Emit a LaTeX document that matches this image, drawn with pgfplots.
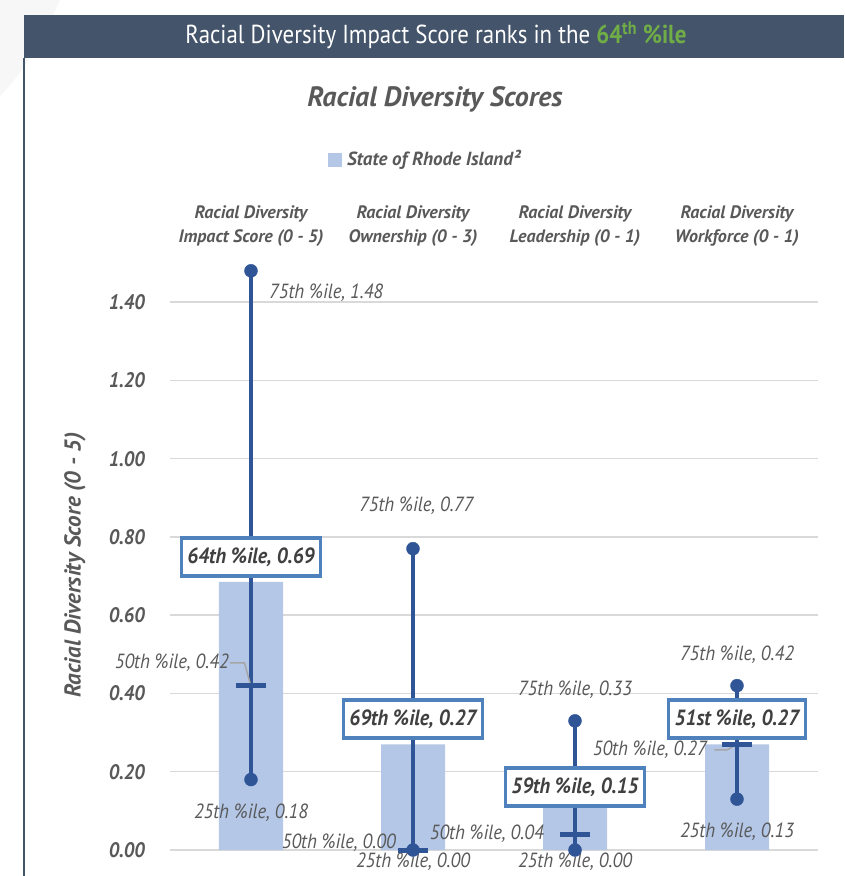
\documentclass[border=0pt]{standalone}
\usepackage{fontspec}
\setmainfont{PT Sans}
\newfontfamily\narrow[FakeStretch=0.91]{PT Sans}
\newfontfamily\hdr[FakeStretch=0.88]{PT Sans}
\usepackage{pgfplots}
\pgfplotsset{compat=1.18}
\definecolor{navy}{HTML}{44546A}
\definecolor{barc}{HTML}{B4C7E7}
\definecolor{errc}{HTML}{2F5597}
\definecolor{boxc}{HTML}{4F81BD}
\definecolor{txt}{HTML}{595959}
\definecolor{dark}{HTML}{404040}
\definecolor{greenc}{HTML}{70AD47}
\definecolor{gridc}{HTML}{D9D9D9}
\begin{document}
\begin{tikzpicture}
\begin{axis}[
  name=ax,
  scale only axis, width=648pt, height=587pt,
  xmin=-0.5, xmax=3.5, ymin=0, ymax=1.5,
  axis line style={draw=none},
  xtick=\empty,
  ytick={0,0.2,0.4,0.6,0.8,1.0,1.2,1.4},
  ymajorgrids, grid style={gridc, line width=1.5pt},
  major tick length=0pt,
  yticklabel style={txt, font=\narrow\bfseries\itshape\fontsize{21}{24}\selectfont, anchor=east, inner sep=0pt, xshift=-25pt,
    /pgf/number format/.cd, fixed, fixed zerofill, precision=2, assume math mode=true},
  clip=false,
]
\addplot[ybar, bar width=64pt, fill=barc, draw=none] coordinates {(0,0.685) (1,0.27) (2,0.15) (3,0.27)};
\addplot[errc, line width=3.5pt] coordinates {(0,0.18) (0,1.48)};
\addplot[errc, line width=3.5pt] coordinates {(1,0.00) (1,0.77)};
\addplot[errc, line width=3.5pt] coordinates {(2,0.00) (2,0.33)};
\addplot[errc, line width=3.5pt] coordinates {(3,0.13) (3,0.42)};
\addplot[only marks, mark=*, mark size=6.5pt, errc] coordinates {(0,0.18)(0,1.48)(1,0)(1,0.77)(2,0)(2,0.33)(3,0.13)(3,0.42)};
\addplot[only marks, mark=-, mark size=15pt, errc, mark options={line width=5pt}] coordinates {(0,0.42)(1,0)(2,0.04)(3,0.27)};
% leader lines
\draw[gray!70, line width=1.5pt] (axis cs:-0.13,0.478) -- (axis cs:-0.04,0.478) -- (axis cs:-0.005,0.425);
\draw[gray!70, line width=1.5pt] (axis cs:2.86,0.256) -- (axis cs:2.94,0.256) -- (axis cs:2.99,0.268);
% category labels
\tikzset{cl/.style={txt, font=\bfseries\itshape\fontsize{18}{24}\selectfont, align=center}}
\node[cl] at (axis cs:0,1.594) {Racial Diversity\\Impact Score (0 - 5)};
\node[cl] at (axis cs:1,1.594) {Racial Diversity\\Ownership (0 - 3)};
\node[cl] at (axis cs:2,1.594) {Racial Diversity\\Leadership (0 - 1)};
\node[cl] at (axis cs:3,1.594) {Racial Diversity\\Workforce (0 - 1)};
% percentile labels
\tikzset{pl/.style={txt, font=\narrow\itshape\fontsize{20.5}{22}\selectfont, inner sep=0pt}}
\node[pl, anchor=west, xshift=18pt] at (axis cs:0,1.425) {75th \%ile, 1.48};
\node[pl, anchor=east, xshift=-22pt] at (axis cs:0,0.478) {50th \%ile, 0.42};
\node[pl] at (axis cs:0,0.0945) {25th \%ile, 0.18};
\node[pl] at (axis cs:1.02,0.881) {75th \%ile, 0.77};
\node[pl, anchor=east, xshift=-17pt] at (axis cs:1,0.018) {50th \%ile, 0.00};
\node[pl] at (axis cs:1,-0.031) {25th \%ile, 0.00};
\node[pl] at (axis cs:2,0.409) {75th \%ile, 0.33};
\node[pl, anchor=east, xshift=-31pt] at (axis cs:2,0.041) {50th \%ile, 0.04};
\node[pl] at (axis cs:2,-0.031) {25th \%ile, 0.00};
\node[pl] at (axis cs:3,0.498) {75th \%ile, 0.42};
\node[pl, anchor=east, xshift=-30pt] at (axis cs:3,0.255) {50th \%ile, 0.27};
\node[pl] at (axis cs:3,0.046) {25th \%ile, 0.13};
% value boxes
\tikzset{vb/.style={draw=boxc, line width=3.5pt, fill=white, text=dark, font=\narrow\bfseries\itshape\fontsize{22}{24}\selectfont, minimum height=38pt, inner xsep=6pt}}
\node[vb] at (axis cs:0,0.749) {64th \%ile, 0.69};
\node[vb] at (axis cs:1,0.335) {69th \%ile, 0.27};
\node[vb] at (axis cs:2,0.161) {59th \%ile, 0.15};
\node[vb] at (axis cs:3,0.335) {51st \%ile, 0.27};
\end{axis}
\begin{scope}[shift={(ax.south west)}]
\begin{scope}[x=1pt,y=1pt,shift={(-170pt,-26pt)}]
\useasboundingbox (0,0) rectangle (844,876);
\fill[gray!6] (0,876) -- (0,780) .. controls (20,800) and (40,830) .. (60,876) -- cycle;
\fill[navy] (24,818) rectangle (844,861);
\draw[navy, line width=2pt] (24,818) -- (24,0);
\node[white, font=\hdr\fontsize{26}{28}\selectfont] at (436,841) {Racial Diversity Impact Score ranks in the \textcolor{greenc}{\textbf{64\textsuperscript{th} \%ile}}};
\node[txt, font=\bfseries\itshape\fontsize{28}{30}\selectfont] at (435,777) {Racial Diversity Scores};
\fill[barc] (328,709) rectangle (342,723);
\node[anchor=west, txt, font=\bfseries\itshape\fontsize{19}{24}\selectfont, inner sep=0pt] at (347,716) {State of Rhode Island²};
\node[txt, rotate=90, font=\bfseries\itshape\fontsize{23}{24}\selectfont] at (75,311) {Racial Diversity Score (0 - 5)};
\end{scope}
\end{scope}
\end{tikzpicture}
\end{document}
